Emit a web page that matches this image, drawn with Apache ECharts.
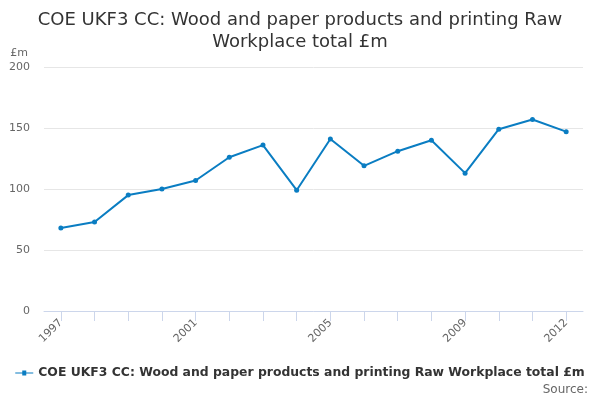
<!DOCTYPE html>
<html>
<head>
<meta charset="utf-8">
<script src="https://cdn.jsdelivr.net/npm/echarts@6/dist/echarts.min.js"></script>
<style>
  html, body { margin: 0; padding: 0; background: #fff; }
  #main { width: 600px; height: 400px; }
</style>
</head>
<body>
<div id="main"></div>
<script>
var years = ['1997', '1998', '1999', '2000', '2001', '2002', '2003', '2004',
  '2005', '2006', '2007', '2008', '2009', '2010', '2011', '2012'];
var values = [68, 73, 95, 100, 107, 126, 136, 99, 141, 119, 131, 140, 113, 149, 157, 147];
var seriesName = 'COE UKF3 CC: Wood and paper products and printing Raw Workplace total £m';

var myChart = echarts.init(document.getElementById('main'));

var option = {
    animation: false,
    title: {
        text: 'COE UKF3 CC: Wood and paper products and printing Raw\nWorkplace total £m',
        left: 'center',
        top: 4,
        textStyle: {
            fontFamily: 'DejaVu Sans',
            fontSize: 18,
            fontWeight: 'normal',
            color: '#333333',
            lineHeight: 22
        }
    },
    legend: {
        bottom: 16,
        left: 'center',
        itemWidth: 18,
        itemHeight: 8,
        itemGap: 5,
        data: [{ name: seriesName, icon: 'path://M0,4 L18,4 L18,5 L0,5 Z M7,2 L11,2 L11,7 L7,7 Z' }],
        textStyle: {
            fontFamily: 'DejaVu Sans',
            fontSize: 12.4,
            fontWeight: 'bold',
            color: '#333333'
        }
    },
    graphic: [{
        type: 'text',
        right: 12,
        bottom: 4,
        style: {
            text: 'Source:',
            fontFamily: 'DejaVu Sans',
            fontSize: 12,
            fill: '#666666'
        }
    }],
    grid: {
        left: 44,
        right: 17,
        top: 67,
        bottom: 89
    },
    xAxis: {
        type: 'category',
        data: years,
        boundaryGap: true,
        axisLine: { lineStyle: { color: '#ccd6eb' } },
        axisTick: {
            show: true,
            alignWithLabel: true,
            interval: 0,
            length: 10,
            lineStyle: { color: '#ccd6eb', width: 1 }
        },
        axisLabel: {
            rotate: 45,
            color: '#666666',
            fontFamily: 'DejaVu Sans',
            fontSize: 11,
            margin: 10,
            interval: function (index) {
                return index % 4 === 0 || index === years.length - 1;
            }
        }
    },
    yAxis: {
        type: 'value',
        min: 0,
        max: 200,
        interval: 50,
        name: '£m',
        nameLocation: 'end',
        nameGap: 8,
        nameTextStyle: {
            color: '#666666',
            fontFamily: 'DejaVu Sans',
            fontSize: 11,
            align: 'right',
            padding: [0, 16, 0, 0]
        },
        axisLine: { show: false },
        axisTick: { show: false },
        axisLabel: {
            color: '#666666',
            fontFamily: 'DejaVu Sans',
            fontSize: 11,
            margin: 14
        },
        splitLine: { lineStyle: { color: '#e6e6e6' } }
    },
    series: [{
        name: seriesName,
        type: 'line',
        data: values,
        symbol: 'circle',
        symbolSize: 5,
        itemStyle: { color: '#0a7dc2' },
        lineStyle: { width: 2, color: '#0a7dc2' }
    }]
};

myChart.setOption(option);
</script>
</body>
</html>
